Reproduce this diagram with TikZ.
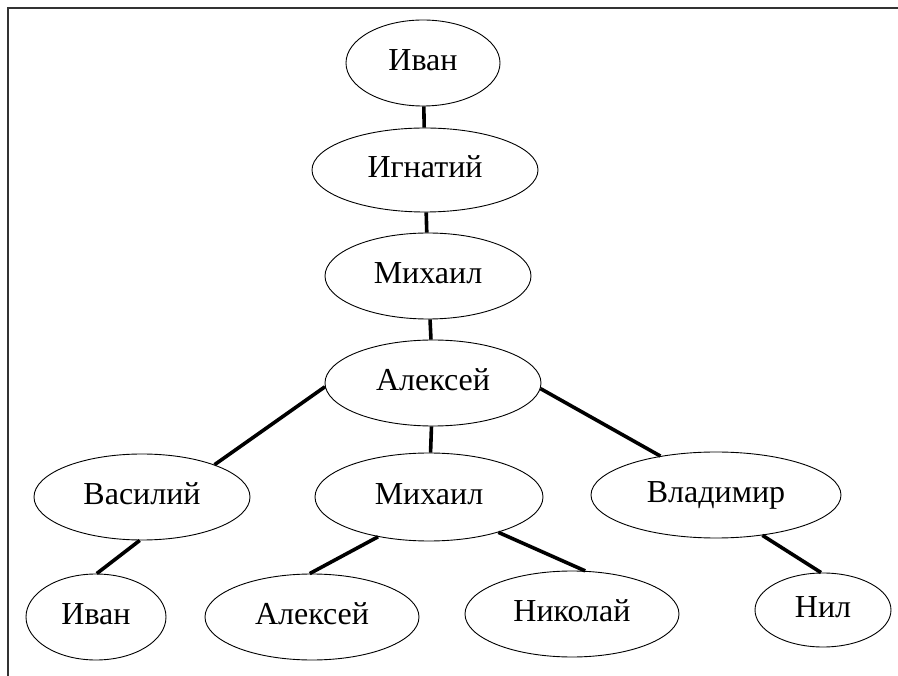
\documentclass[tikz,border=0pt]{standalone}
\usepackage{fontspec}
\setmainfont{Liberation Serif}
\usetikzlibrary{shapes.geometric}
\usetikzlibrary{positioning}

\begin{document}
\begin{tikzpicture}[x=1pt, y=-1pt,
		person/.style={draw, ellipse, line width=0.9pt, inner sep=0pt,
			text height=21pt, text depth=6pt,
			font=\fontsize{32}{36}\selectfont},
		link/.style={line width=3.6pt},
		frame/.style={line width=1.6pt, draw=black!80}
		]
		
		\useasboundingbox (0,0) rectangle (898,676);
		\draw[frame] (898,8) -- (8,8) -- (8,676);
		
		%ancestors
		\node[person, minimum width=154, minimum height=86] (ivanA) at (423,63) {Иван};
		\node[person, minimum width=226, minimum height=84] (ignat) at (425,170) {Игнатий};
		\node[person, minimum width=206, minimum height=86] (mikhA) at (428,276) {Михаил};
		\node[person, minimum width=216, minimum height=86] (alex) at (433,383) {Алексей};
		
		%sons
		\node[person, minimum width=216, minimum height=86] (vasil) at (142,497) {Василий};
		\node[person, minimum width=228, minimum height=88] (mikhB) at (429,497) {Михаил};
		\node[person, minimum width=250, minimum height=86] (vlad) at (716,495) {Владимир};
		
		%grandsons
		\node[person, minimum width=140, minimum height=86] (ivanB) at (96,617) {Иван};
		\node[person, minimum width=214, minimum height=86] (alexB) at (312,617) {Алексей};
		\node[person, minimum width=214, minimum height=86] (nikol) at (572,614) {Николай};
		\node[person, minimum width=136, minimum height=74] (nil) at (823,610) {Нил};
		
		%links
		\draw[link] (ivanA) -- (ignat);
		\draw[link] (ignat) -- (mikhA);
		\draw[link] (mikhA) -- (alex);
		\draw[link] (alex) -- (mikhB);
		\draw[link] (alex.182) -- (vasil.24);
		\draw[link] (alex.357) -- (vlad.145);
		
		\draw[link] (vasil.267) -- (ivanB.89);
		\draw[link] (mikhB.218) -- (alexB.93);
		\draw[link] (mikhB.333) -- (nikol.73);
		\draw[link] (vlad.319) -- (nil.93);
	\end{tikzpicture}
\end{document}
